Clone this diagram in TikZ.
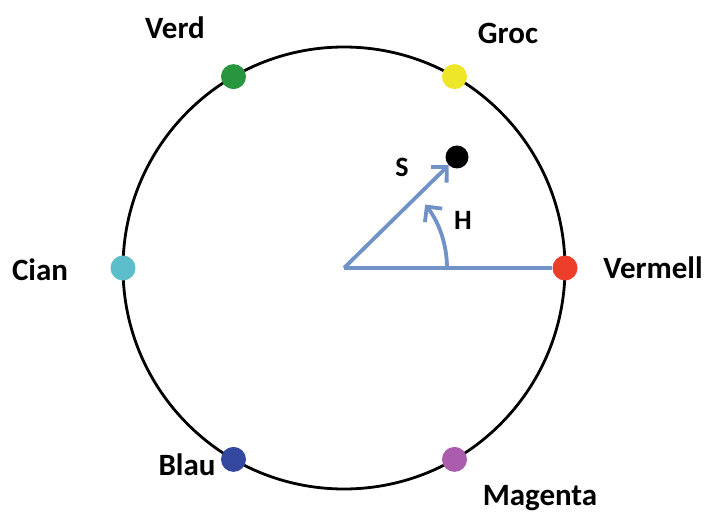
\documentclass[tikz,border=0pt]{standalone}
\usepackage{fontspec}
\setmainfont{Carlito}
\usetikzlibrary{arrows.meta}
\definecolor{hsvBlue}{RGB}{112,146,198}
\definecolor{hsvVermell}{RGB}{236,62,42}
\definecolor{hsvGroc}{RGB}{238,230,40}
\definecolor{hsvVerd}{RGB}{40,150,62}
\definecolor{hsvCian}{RGB}{92,190,202}
\definecolor{hsvBlau}{RGB}{52,72,160}
\definecolor{hsvMagenta}{RGB}{172,92,172}
\begin{document}
\begin{tikzpicture}[
    x=1pt,y=1pt,
    hsvWheel/.style={draw=black,line width=2.8pt},
    hsvDot/.style={circle,inner sep=0pt,minimum size=25pt},
    hsvName/.style={font=\bfseries\fontsize{31}{36}\selectfont},
    hsvLetter/.style={font=\bfseries\fontsize{28}{34}\selectfont},
    hsvLine/.style={draw=hsvBlue,line width=3.8pt},
    hsvVector/.style={hsvLine,-{Straight Barb[length=11pt,width=22pt,line width=3.8pt]}}]
    \useasboundingbox (-344,-246) rectangle (362,268);
    \coordinate (O) at (0,0);
    \draw[hsvWheel] (O) circle (221);
    % hues on the wheel
    \foreach \a/\c/\n/\lx/\ly in {0/hsvVermell/Vermell/309/0,
                                  60/hsvGroc/Groc/164/235,
                                  120/hsvVerd/Verd/-169/240,
                                  180/hsvCian/Cian/-304/-2,
                                  240/hsvBlau/Blau/-157/-197,
                                  300/hsvMagenta/Magenta/196/-230}{
        \node[hsvDot,fill=\c] (\n) at (\a:221) {};
        \node[hsvName] (\n-label) at (\lx,\ly) {\n};
    }
    \node[hsvDot,fill=black,minimum size=23pt] (hsvPoint) at (113,111) {};
    \draw[hsvLine] (O) -- (Vermell);
    \draw[hsvVector] (O) -- (hsvPoint);
    \draw[hsvVector] ([xshift=103pt]O) arc[start angle=0,end angle=38,radius=103];
    \node[hsvLetter] (S-label) at (58,101) {S};
    \node[hsvLetter] (H-label) at (119,48) {H};
\end{tikzpicture}
\end{document}
